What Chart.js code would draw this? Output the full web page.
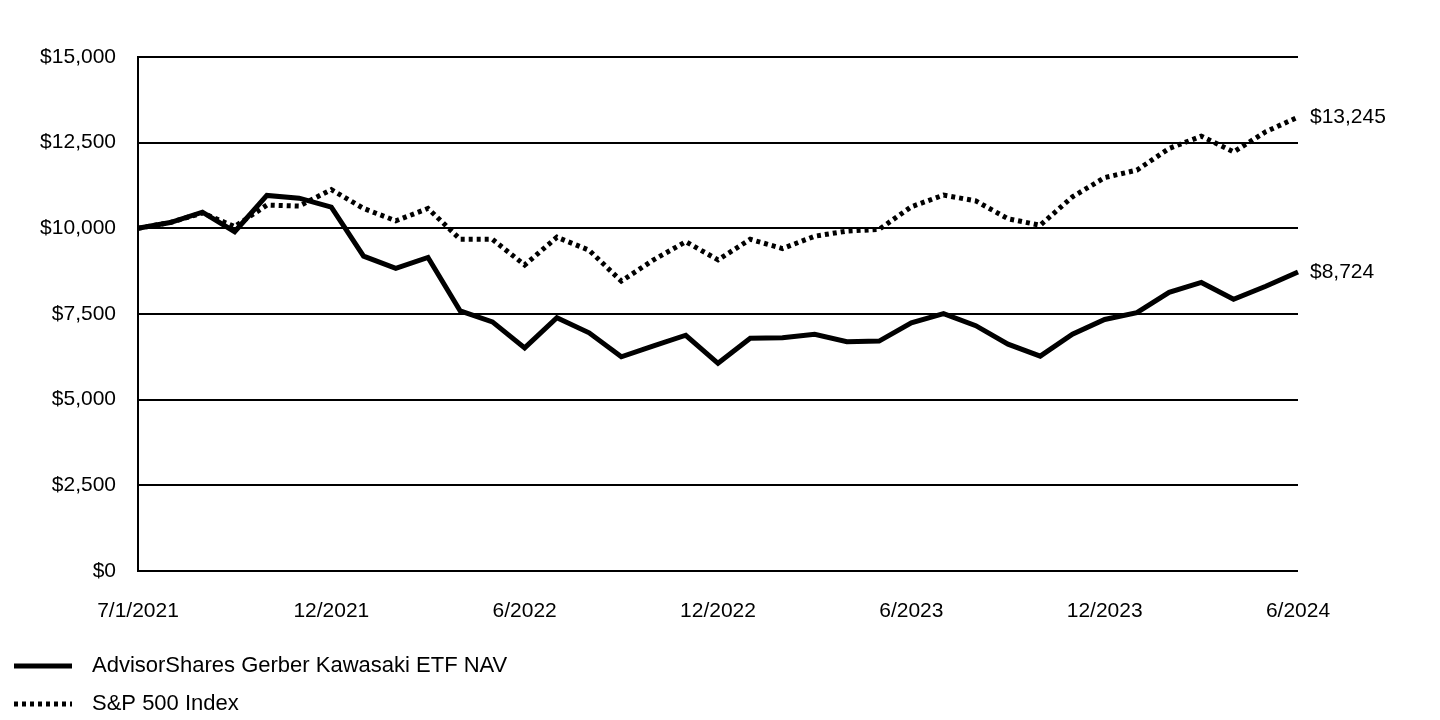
<!DOCTYPE html>
<html>
<head>
<meta charset="utf-8">
<script src="https://cdn.jsdelivr.net/npm/chart.js@4"></script>
<style>
  html, body { margin: 0; padding: 0; background: #fff; }
  canvas { display: block; }
</style>
</head>
<body>
<canvas id="growth-chart" width="1440" height="720"></canvas>
<script>
// 月末ごとの評価額 (7/1/2021 = $10,000)
const periodLabels = [
  "7/1/2021", "7/2021", "8/2021", "9/2021", "10/2021", "11/2021", "12/2021",
  "1/2022", "2/2022", "3/2022", "4/2022", "5/2022", "6/2022",
  "7/2022", "8/2022", "9/2022", "10/2022", "11/2022", "12/2022",
  "1/2023", "2/2023", "3/2023", "4/2023", "5/2023", "6/2023",
  "7/2023", "8/2023", "9/2023", "10/2023", "11/2023", "12/2023",
  "1/2024", "2/2024", "3/2024", "4/2024", "5/2024", "6/2024"
];
const shownTicks = ["7/1/2021", "12/2021", "6/2022", "12/2022", "6/2023", "12/2023", "6/2024"];

const navValues = [
  10000, 10170, 10470, 9900, 10960, 10880, 10620,
  9190, 8830, 9150, 7590, 7270, 6510,
  7390, 6950, 6250, 6570, 6880, 6060,
  6790, 6810, 6910, 6690, 6710, 7240,
  7510, 7160, 6620, 6270, 6910, 7340,
  7540, 8130, 8420, 7930, 8310, 8724
];
const spValues = [
  10000, 10170, 10450, 10050, 10680, 10650, 11130,
  10580, 10220, 10580, 9680, 9680, 8930,
  9740, 9360, 8460, 9080, 9610, 9080,
  9680, 9410, 9770, 9920, 9970, 10630,
  10970, 10800, 10280, 10090, 10920, 11480,
  11700, 12330, 12690, 12230, 12820, 13245
];
const seriesNames = ["AdvisorShares Gerber Kawasaki ETF NAV", "S&P 500 Index"];
const yTicks = [0, 2500, 5000, 7500, 10000, 12500, 15000];

const FONT = "Arial, 'Liberation Sans', sans-serif";
const money = v => "$" + v.toLocaleString("en-US");

// 最終値ラベル
const endLabels = {
  id: "endLabels",
  afterDatasetsDraw(chart) {
    const ctx = chart.ctx;
    ctx.save();
    ctx.font = "21px " + FONT;
    ctx.fillStyle = "#000";
    ctx.textAlign = "left";
    ctx.textBaseline = "middle";
    chart.data.datasets.forEach((ds, i) => {
      const pts = chart.getDatasetMeta(i).data;
      const last = pts[pts.length - 1];
      ctx.fillText(money(ds.data[ds.data.length - 1]), last.x + 12, last.y);
    });
    ctx.restore();
  }
};

// 縦並びの凡例
const stackedLegend = {
  id: "stackedLegend",
  afterDraw(chart) {
    const ctx = chart.ctx;
    ctx.save();
    ctx.font = "22px " + FONT;
    ctx.fillStyle = "#000";
    ctx.textBaseline = "middle";
    chart.data.datasets.forEach((ds, i) => {
      const y = 666 + i * 38;
      ctx.beginPath();
      ctx.lineWidth = ds.borderWidth;
      ctx.strokeStyle = ds.borderColor;
      ctx.setLineDash(ds.borderDash || []);
      ctx.moveTo(14, y);
      ctx.lineTo(72, y);
      ctx.stroke();
      ctx.setLineDash([]);
      ctx.fillText(ds.label, 92, y);
    });
    ctx.restore();
  }
};

const ctx1 = document.getElementById("growth-chart").getContext("2d");
new Chart(ctx1, {
  type: "line",
  data: {
    labels: periodLabels,
    datasets: [
      {
        label: seriesNames[0],
        data: navValues,
        borderColor: "#000",
        borderWidth: 5,
        pointRadius: 0,
        tension: 0,
        fill: false
      },
      {
        label: seriesNames[1],
        data: spValues,
        borderColor: "#000",
        borderWidth: 5,
        borderDash: [4, 4],
        pointRadius: 0,
        tension: 0,
        fill: false
      }
    ]
  },
  options: {
    responsive: false,
    animation: false,
    layout: { padding: { top: 57, right: 142, left: 0, bottom: 0 } },
    plugins: {
      legend: { display: false },
      tooltip: { enabled: false }
    },
    scales: {
      x: {
        grid: { display: false, drawTicks: false },
        border: { display: false },
        afterFit(scale) { scale.height = 149; },
        ticks: {
          autoSkip: false,
          maxRotation: 0,
          padding: 28,
          color: "#000",
          font: { family: FONT, size: 21 },
          callback(value) {
            const lbl = this.getLabelForValue(value);
            return shownTicks.includes(lbl) ? lbl : "";
          }
        }
      },
      y: {
        min: 0,
        max: 15000,
        afterFit(scale) { scale.width = 138; },
        afterBuildTicks(scale) { scale.ticks = yTicks.map(v => ({ value: v })); },
        grid: { color: "#000", lineWidth: 2, drawTicks: false },
        border: { display: true, color: "#000", width: 2 },
        ticks: {
          padding: 22,
          color: "#000",
          font: { family: FONT, size: 21 },
          callback: v => money(v)
        }
      }
    }
  },
  plugins: [endLabels, stackedLegend]
});
</script>
</body>
</html>
